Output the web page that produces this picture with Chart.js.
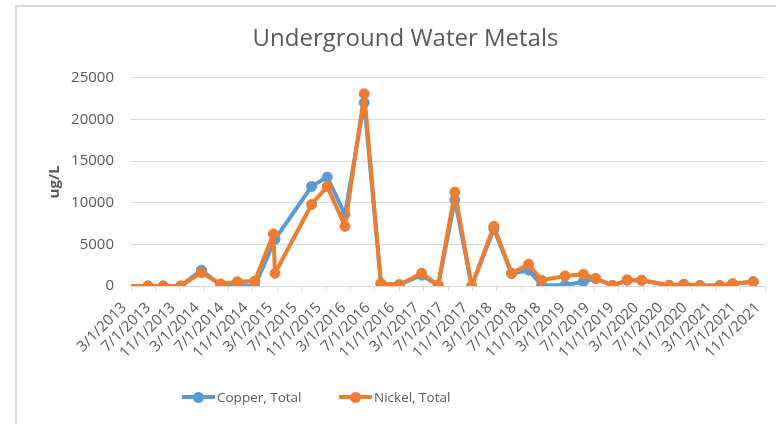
<!DOCTYPE html>
<html>
<head>
<meta charset="utf-8">
<script src="https://cdn.jsdelivr.net/npm/chart.js@4.4.0/dist/chart.umd.min.js"></script>
<style>
    body { margin: 0; background: #fff; overflow: hidden; }
    #wrap { position: relative; width: 776px; height: 424px; overflow: hidden; }
    #frame { position: absolute; left: 15px; top: 5px; width: 900px; height: 600px; border-top: 2px solid #d9d9d9; border-left: 2px solid #d9d9d9; }
    #chartBox { position: absolute; left: 0; top: 0; width: 776px; height: 424px; }
    .legend-item { position: absolute; top: 388px; display: flex; align-items: center; font: 13.5px 'Open Sans', sans-serif; color: #595959; }
    .legend-mark { position: relative; width: 33px; height: 18px; margin-right: 2px; }
    .legend-mark .ln { position: absolute; left: 0; right: 0; top: 7px; height: 4px; }
    .legend-mark .dot { position: absolute; left: 11px; top: 4px; width: 11px; height: 11px; border-radius: 50%; }
</style>
</head>
<body>
<div id="wrap">
    <div id="frame"></div>
    <div id="chartBox"><canvas id="metalsChart"></canvas></div>
    <div id="legend"></div>
</div>
<script>
const tickLabels = [
    '3/1/2013', '7/1/2013', '11/1/2013',
    '3/1/2014', '7/1/2014', '11/1/2014',
    '3/1/2015', '7/1/2015', '11/1/2015',
    '3/1/2016', '7/1/2016', '11/1/2016',
    '3/1/2017', '7/1/2017', '11/1/2017',
    '3/1/2018', '7/1/2018', '11/1/2018',
    '3/1/2019', '7/1/2019', '11/1/2019',
    '3/1/2020', '7/1/2020', '11/1/2020',
    '3/1/2021', '7/1/2021', '11/1/2021'
];

const sampleDates = [
    '2013-01-01', '2013-05-25', '2013-08-10', '2013-11-05',
    '2014-02-18', '2014-05-23', '2014-08-15', '2014-11-10',
    '2015-02-12', '2015-02-20', '2015-08-20', '2015-11-07',
    '2016-02-04', '2016-05-09', '2016-08-01', '2016-11-01',
    '2017-02-22', '2017-05-13', '2017-08-05', '2017-10-28',
    '2018-02-17', '2018-05-14', '2018-08-08', '2018-10-12',
    '2019-02-07', '2019-05-07', '2019-07-08', '2019-10-01',
    '2019-12-13', '2020-02-24', '2020-07-10', '2020-09-22',
    '2020-12-11', '2021-03-19', '2021-05-22', '2021-09-03'
];

const copperValues = [
    0, 0, 0, 0,
    1900, 50, 150, 0,
    null, 5600, 11960, 13080,
    8570, 22020, 280, 150,
    1300, 100, 10350, 0,
    6850, 1500, 1900, 100,
    100, 520, 880, 50,
    700, 680, 50, 180,
    30, 30, 250, 500
];

const nickelValues = [
    0, 0, 0, 0,
    1600, 250, 500, 600,
    6240, 1530, 9780, 11960,
    7170, 23070, 300, 150,
    1530, 100, 11270, 0,
    7170, 1530, 2620, 690,
    1200, 1400, 900, 50,
    720, 700, 100, 200,
    50, 50, 280, 520
];

const seriesNames = ['Copper, Total', 'Nickel, Total'];
const seriesColors = ['#5b9bd5', '#ed7d31'];

function monthIndex(y, m, d) {
    return (y - 2013) * 12 + (m - 1) + (d - 1) / 30.5;
}
const dateToX = s => { const [y, m, d] = s.split('-').map(Number); return monthIndex(y, m, d); };
const labelToX = s => { const [m, d, y] = s.split('/').map(Number); return monthIndex(y, m, d); };
const tickValues = tickLabels.map(labelToX);

const toPoints = values => sampleDates.map((d, i) => ({ x: dateToX(d), y: values[i] }));

const textColor = '#595959';
const gridColor = '#d9d9d9';
const font = "'Open Sans', sans-serif";

const ctx = document.getElementById('metalsChart').getContext('2d');
const metalsChart = new Chart(ctx, {
    type: 'line',
    data: {
        datasets: [
            { label: seriesNames[0], data: toPoints(copperValues), order: 1 },
            { label: seriesNames[1], data: toPoints(nickelValues), order: 0 }
        ].map((ds, i) => Object.assign(ds, {
            borderColor: seriesColors[i],
            backgroundColor: seriesColors[i],
            pointBackgroundColor: seriesColors[i],
            pointBorderColor: seriesColors[i],
            borderWidth: 4,
            borderJoinStyle: 'round',
            borderCapStyle: 'round',
            pointRadius: 5,
            pointBorderWidth: 1,
            tension: 0,
            spanGaps: true
        }))
    },
    options: {
        responsive: true,
        maintainAspectRatio: false,
        animation: false,
        layout: { padding: { left: 46, right: 11, top: 10, bottom: 38 } },
        plugins: {
            legend: { display: false },
            tooltip: { enabled: false },
            title: {
                display: true,
                text: 'Underground Water Metals',
                color: textColor,
                font: { family: font, size: 24, weight: 'normal' },
                padding: { top: 15, bottom: 24 }
            }
        },
        scales: {
            x: {
                type: 'linear',
                min: tickValues[0],
                max: tickValues[tickValues.length - 1],
                afterBuildTicks: scale => { scale.ticks = tickValues.map(v => ({ value: v })); },
                afterFit: scale => { scale.height = 100; scale.paddingLeft = 0; scale.paddingRight = 0; },
                grid: { drawOnChartArea: false, drawTicks: true, tickLength: 5, color: gridColor },
                border: { display: true, color: gridColor, width: 1 },
                ticks: {
                    autoSkip: false,
                    minRotation: 45,
                    maxRotation: 45,
                    padding: 8,
                    labelOffset: -7,
                    color: textColor,
                    font: { family: font, size: 15 },
                    callback: (v, i) => tickLabels[i]
                }
            },
            y: {
                min: 0,
                max: 25000,
                afterFit: scale => { scale.width = 85; },
                grid: { color: gridColor, drawTicks: false },
                border: { display: false },
                ticks: {
                    stepSize: 5000,
                    padding: 17,
                    color: textColor,
                    font: { family: font, size: 15 },
                    callback: v => String(v)
                },
                title: {
                    display: true,
                    text: 'ug/L',
                    color: textColor,
                    font: { family: font, size: 15, weight: 'bold' },
                    padding: { top: 0, bottom: 0 }
                }
            }
        }
    }
});

// legend like the Excel one: line with a marker, then the name
const legendLeft = [182, 339];
const legendEl = document.getElementById('legend');
seriesNames.forEach((name, i) => {
    const item = document.createElement('div');
    item.className = 'legend-item';
    item.style.left = legendLeft[i] + 'px';
    item.innerHTML = '<span class="legend-mark"><span class="ln" style="background:' + seriesColors[i] +
        '"></span><span class="dot" style="background:' + seriesColors[i] + '"></span></span><span>' + name + '</span>';
    legendEl.appendChild(item);
});
</script>
</body>
</html>
